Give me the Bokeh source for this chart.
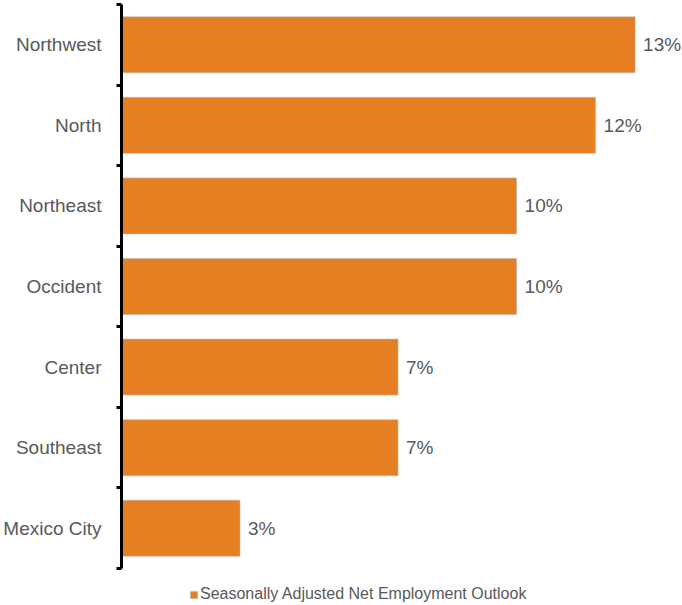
from bokeh.plotting import figure
from bokeh.models import ColumnDataSource, FixedTicker, Range1d, Legend, LegendItem
from bokeh.core.properties import value
from bokeh.embed import file_html
from bokeh.resources import INLINE

regions = ["Northwest", "North", "Northeast", "Occident", "Center", "Southeast", "Mexico City"]
values = [13, 12, 10, 10, 7, 7, 3]
value_labels = ["13%", "12%", "10%", "10%", "7%", "7%", "3%"]
series_name = "Seasonally Adjusted Net Employment Outlook"

FONT = "Liberation Sans"
ORANGE = "#E67E22"
GRAY = "#595959"

n = len(regions)
ypos = [i + 0.5 for i in range(n)]
src = ColumnDataSource(dict(y=ypos, v=values, lab=value_labels, name=regions))

# frame extends to the bottom of the canvas so the legend can sit under the bars
p = figure(frame_width=561, frame_height=601, output_backend="svg", toolbar_location=None,
           x_range=Range1d(0, 14.2), y_range=Range1d(n * 601 / 564, 0),
           x_axis_location=None, min_border_left=121, min_border_top=4,
           min_border_right=0, min_border_bottom=0)
p.outline_line_color = None
p.xgrid.visible = False
p.ygrid.visible = False

r = p.hbar(y="y", left=0, right="v", height=0.695, source=src,
           fill_color=ORANGE, line_color="#b8b8b8", line_width=0.6)

p.text(x="v", y="y", text="lab", source=src, x_offset=8,
       text_baseline="middle", text_align="left",
       text_font=value(FONT), text_font_size="19px", text_color=GRAY)

ax = p.yaxis[0]
ax.bounds = (0, n)
ax.ticker = FixedTicker(ticks=ypos, minor_ticks=list(range(n + 1)))
ax.major_label_overrides = {y: name for y, name in zip(ypos, regions)}
ax.major_tick_out = 0
ax.major_tick_in = 0
ax.minor_tick_out = 5
ax.minor_tick_in = 0
ax.minor_tick_line_width = 3
ax.minor_tick_line_color = "black"
ax.axis_line_width = 3
ax.axis_line_color = "black"
ax.major_label_standoff = 15
ax.major_label_text_font = FONT
ax.major_label_text_font_size = "19px"
ax.major_label_text_color = GRAY

legend = Legend(items=[LegendItem(label=series_name, renderers=[r])],
                location=(68, 2), orientation="horizontal",
                glyph_width=9, glyph_height=9, label_standoff=2,
                padding=0, margin=0, spacing=0,
                border_line_color=None, background_fill_alpha=0,
                label_text_font=FONT, label_text_font_size="16px",
                label_text_color=GRAY)
p.add_layout(legend, "center")

open("out.html", "w").write(file_html(p, INLINE))
